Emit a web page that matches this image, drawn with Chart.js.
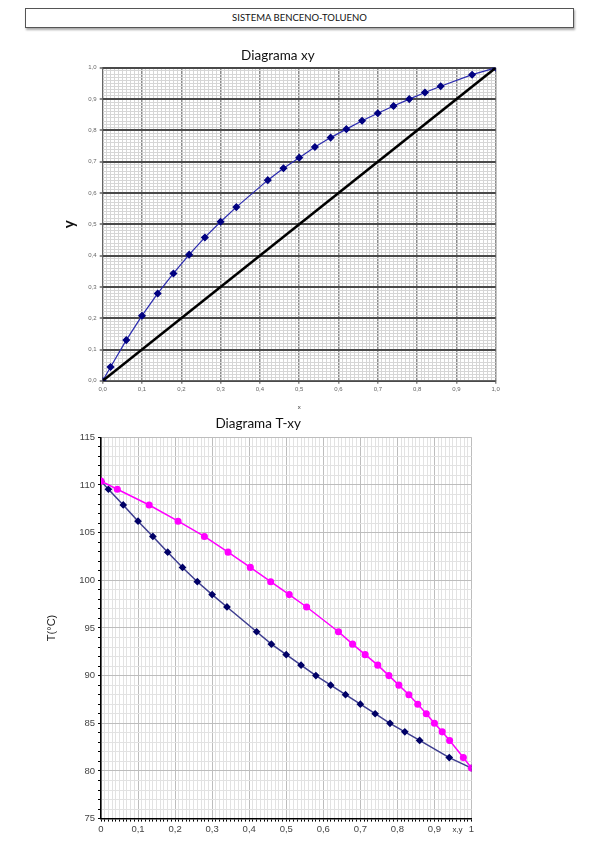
<!DOCTYPE html>
<html lang="es">
<head>
  <meta charset="UTF-8">
  <title>SISTEMA BENCENO-TOLUENO</title>
  <script src="https://cdn.jsdelivr.net/npm/chart.js"></script>
  <style>
    * { box-sizing: border-box; }
    body { margin: 0; width: 599px; height: 848px; background: #fff; position: relative; overflow: hidden; font-family: Lato, Arial, sans-serif; }
    .head { position: absolute; left: 25px; top: 8px; width: 549px; height: 20px; border: 1px solid #555; box-shadow: 1px 2px 2px #aaa; text-align: center; font-size: 9.5px; line-height: 18px; color: #111; }
    .box { position: absolute; left: 0; width: 599px; }
    #box-xy { top: 40px; height: 375px; }
    #box-txy { top: 415px; height: 433px; }
  </style>
</head>
<body>
  <div class="head">SISTEMA BENCENO-TOLUENO</div>
  <div class="box" id="box-xy"><canvas id="chart-xy" width="599" height="375"></canvas></div>
  <div class="box" id="box-txy"><canvas id="chart-txy" width="599" height="433"></canvas></div>

  <script>
    // fraccion molar de benceno en el liquido (x) y en el vapor (y), temperatura de equilibrio
    const xLiq = [0, 0.02, 0.06, 0.10, 0.14, 0.18, 0.22, 0.26, 0.30, 0.34, 0.42, 0.46, 0.50, 0.54, 0.58, 0.62, 0.66, 0.70, 0.74, 0.78, 0.82, 0.86, 0.94, 1.0];
    const yVap = [0, 0.044, 0.130, 0.208, 0.279, 0.343, 0.403, 0.458, 0.508, 0.555, 0.641, 0.679, 0.713, 0.747, 0.777, 0.804, 0.831, 0.855, 0.878, 0.900, 0.921, 0.941, 0.978, 1.0];
    const tempC = [110.4, 109.55, 107.9, 106.2, 104.6, 102.95, 101.35, 99.85, 98.5, 97.2, 94.6, 93.3, 92.2, 91.1, 90.0, 89.0, 88.0, 87.0, 86.0, 85.0, 84.1, 83.2, 81.4, 80.3];
    const diagX = [0, 1];
    const tMin = 75, tMax = 115;

    const pts = (xs, ys) => xs.map((v, i) => ({ x: v, y: ys[i] }));
    const major = (v, n) => Math.round(v * 100) % n === 0;
    const hasTick = c => c.tick !== undefined;

    // ---- Diagrama xy ----
    const fmt1 = v => (Math.round(v * 100) % 10 === 0) ? v.toFixed(1).replace('.', ',') : '';
    function gridXY(majorColor, majorWidth) {
      return {
        color: c => hasTick(c) && major(c.tick.value, 10) ? majorColor : '#d6d6d6',
        lineWidth: c => hasTick(c) && major(c.tick.value, 10) ? majorWidth : 1,
        tickColor: c => hasTick(c) && major(c.tick.value, 10) ? '#888' : 'rgba(0,0,0,0)',
        tickLength: 3
      };
    }
    new Chart(document.getElementById('chart-xy'), {
      type: 'scatter',
      data: {
        datasets: [
          { data: pts(diagX, diagX), showLine: true, borderColor: '#000', borderWidth: 2.5, pointRadius: 0 },
          { data: pts(xLiq, yVap), showLine: true, borderColor: '#2b2bb0', borderWidth: 1.2,
            pointStyle: 'rectRot', pointRadius: 3.2, pointBackgroundColor: '#000080', pointBorderColor: '#000080' }
        ]
      },
      options: {
        responsive: false, animation: false,
        layout: { padding: { left: 60, right: 103.3, top: 0, bottom: 0 } },
        plugins: {
          legend: { display: false }, tooltip: { enabled: false },
          title: { display: true, text: 'Diagrama xy', color: '#111', font: { family: 'Lato', size: 13.5, weight: 'normal' }, padding: { top: 8, bottom: 3.6 } }
        },
        scales: {
          x: {
            type: 'linear', min: 0, max: 1,
            afterFit: s => { s.height = 34.2; },
            ticks: { stepSize: 0.01, autoSkip: false, maxRotation: 0, padding: 2, color: '#666', font: { family: 'Liberation Sans', size: 6 }, callback: fmt1 },
            grid: gridXY('#8c8c8c', 1.5),
            border: { color: '#666', width: 1 },
            title: { display: true, text: 'x', color: '#333', font: { family: 'Liberation Sans', size: 6 }, padding: { top: 0, bottom: 4 } }
          },
          y: {
            type: 'linear', min: 0, max: 1,
            afterFit: s => { s.width = 42.7; },
            ticks: { stepSize: 0.01, autoSkip: false, padding: 3, color: '#666', font: { family: 'Liberation Sans', size: 6 }, callback: fmt1 },
            grid: gridXY('#4a4a4a', 2),
            border: { color: '#666', width: 1 },
            title: { display: true, text: 'y', color: '#111', font: { family: 'Lato', size: 15, weight: 'bold' }, padding: { top: 0, bottom: 9 } }
          }
        }
      }
    });

    // ---- Diagrama T-xy ----
    const fmtX = v => {
      if (Math.round(v * 100) % 10 !== 0) return '';
      const r = Math.round(v * 10) / 10;
      return (r === 0 || r === 1) ? String(r) : r.toFixed(1).replace('.', ',');
    };
    new Chart(document.getElementById('chart-txy'), {
      type: 'scatter',
      data: {
        datasets: [
          { data: pts(yVap, tempC), showLine: true, borderColor: '#ff00ff', borderWidth: 1.5,
            pointStyle: 'circle', pointRadius: 2.8, pointBackgroundColor: '#ff00ff', pointBorderColor: '#ff00ff' },
          { data: pts(xLiq, tempC), showLine: true, borderColor: '#3d3d8f', borderWidth: 1.5,
            pointStyle: 'rectRot', pointRadius: 2.8, pointBackgroundColor: '#000066', pointBorderColor: '#000066' }
        ]
      },
      options: {
        responsive: false, animation: false,
        layout: { padding: { left: 45, right: 127.5, top: 0, bottom: 0 } },
        plugins: {
          legend: { display: false }, tooltip: { enabled: false },
          title: { display: true, text: 'Diagrama T-xy', color: '#111', font: { family: 'Lato', size: 13.5, weight: 'normal' }, padding: { top: 1, bottom: 5.1 } }
        },
        scales: {
          x: {
            type: 'linear', min: 0, max: 1,
            afterFit: s => { s.height = 29.4; },
            ticks: { stepSize: 0.01, autoSkip: false, maxRotation: 0, padding: 2, color: '#444', font: { family: 'Liberation Sans', size: 9.5 }, callback: fmtX },
            grid: {
              color: c => hasTick(c) && major(c.tick.value, 10) ? '#bdbdbd' : '#e2e2e2',
              tickColor: '#000', tickLength: 3
            },
            border: { color: '#000', width: 1.5 },
            title: { display: true, text: 'x,y    ', align: 'end', color: '#333', font: { family: 'Liberation Sans', size: 8 }, padding: { top: 0, bottom: 13.2 } }
          },
          y: {
            type: 'linear', min: tMin, max: tMax,
            afterFit: s => { s.width = 56; },
            ticks: { stepSize: 1, autoSkip: false, padding: 3, color: '#444', font: { family: 'Liberation Sans', size: 9.5 },
              callback: v => v % 5 === 0 ? String(v) : '' },
            grid: {
              color: c => hasTick(c) && c.tick.value % 5 === 0 ? '#bdbdbd' : '#e2e2e2',
              tickColor: '#000', tickLength: 3
            },
            border: { color: '#000', width: 1.5 },
            title: { display: true, text: 'T(°C)', color: '#222', font: { family: 'Liberation Sans', size: 11 }, padding: { top: 0, bottom: 10 } }
          }
        }
      }
    });
  </script>
</body>
</html>
